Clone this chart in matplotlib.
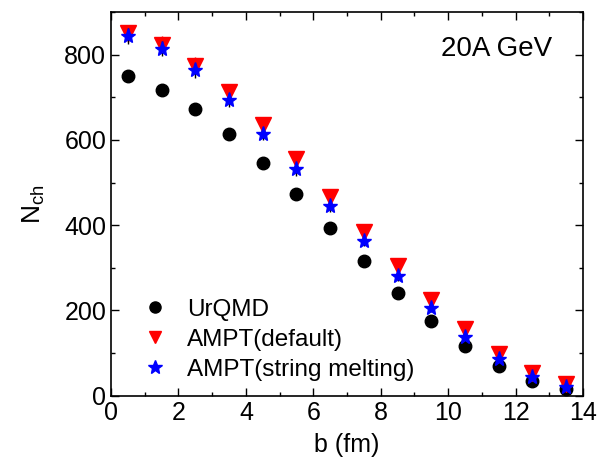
import matplotlib
matplotlib.use("Agg")
import matplotlib.pyplot as plt
from matplotlib.ticker import MultipleLocator
from matplotlib.lines import Line2D

plt.rcParams['font.family'] = ['Liberation Sans', 'DejaVu Sans']

b = [0.5, 1.5, 2.5, 3.5, 4.5, 5.5, 6.5, 7.5, 8.5, 9.5, 10.5, 11.5, 12.5, 13.5]
urqmd = [749, 716, 673, 614, 545, 472, 393, 316, 242, 176, 116, 69, 35, 16]
ampt_default = [850, 823, 774, 712, 635, 555, 465, 383, 304, 225, 157, 97, 54, 27]
ampt_default_err = [20, 20, 20, 18, 18, 16, 16, 14, 12, 10, 8, 6, 5, 4]
ampt_sm = [844, 814, 763, 694, 615, 531, 446, 364, 280, 206, 138, 86, 44, 21]
ampt_sm_err = [18, 18, 18, 16, 16, 15, 14, 13, 12, 10, 8, 6, 5, 4]

fig = plt.figure(figsize=(6.08, 4.70), dpi=100)
ax = fig.add_axes([0.1826, 0.158, 0.7764, 0.8165])

ax.plot(b, urqmd, 'o', color='black', markersize=9, zorder=3)
ax.errorbar(b, ampt_default, yerr=ampt_default_err, fmt='v', color='red',
            ecolor='red', elinewidth=1, markersize=11, capsize=0, zorder=4)
ax.errorbar(b, ampt_sm, yerr=ampt_sm_err, fmt='*', color='blue',
            ecolor='black', elinewidth=1, markersize=11, capsize=0, zorder=5)

ax.set_xlim(0, 14)
ax.set_ylim(0, 900)
ax.xaxis.set_major_locator(MultipleLocator(2))
ax.xaxis.set_minor_locator(MultipleLocator(1))
ax.yaxis.set_major_locator(MultipleLocator(200))
ax.yaxis.set_minor_locator(MultipleLocator(100))
ax.tick_params(which='both', direction='in', top=True, right=True, labelsize=18)
ax.tick_params(which='major', length=6, width=1)
ax.tick_params(which='minor', length=3, width=1)
for s in ax.spines.values():
    s.set_linewidth(1.2)

ax.set_xlabel('b (fm)', fontsize=18, labelpad=6)
ax.set_ylabel(r'N$_{\mathregular{ch}}$', fontsize=19, labelpad=12)

ax.text(0.934, 0.904, '20A GeV', transform=ax.transAxes, ha='right', va='center', fontsize=20)

handles = [
    Line2D([], [], linestyle='none', marker='o', color='black', markersize=8),
    Line2D([], [], linestyle='none', marker='v', color='red', markersize=9),
    Line2D([], [], linestyle='none', marker='*', color='blue', markersize=10),
]
labels = ['UrQMD', 'AMPT(default)', 'AMPT(string melting)']
leg = ax.legend(handles, labels, loc='lower left', bbox_to_anchor=(0.0, -0.018),
                frameon=False, fontsize=17.5, handletextpad=0.42, labelspacing=0.33,
                handlelength=1.8)

fig.savefig('out.png', dpi=100)
